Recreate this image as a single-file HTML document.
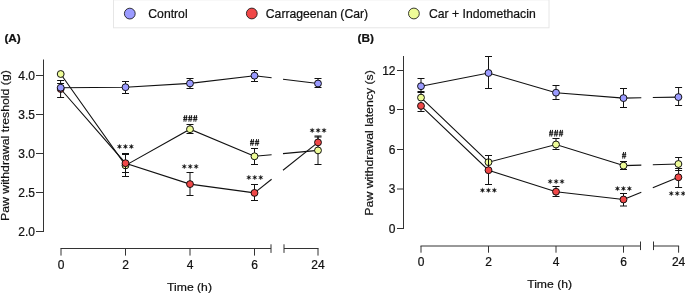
<!DOCTYPE html>
<html><head><meta charset="utf-8"><style>
html,body{margin:0;padding:0;background:#fff;width:685px;height:294px;overflow:hidden}
svg{display:block;will-change:transform;font-family:"Liberation Sans",sans-serif}
text{fill:#111;stroke:#111;stroke-width:0.22px}
</style></head><body>
<svg width="685" height="294" viewBox="0 0 685 294">
<rect x="113.5" y="-0.2" width="435.5" height="28" fill="#fff" stroke="#e6e6e6" stroke-width="1"/>
<circle cx="129.8" cy="13.6" r="5.4" fill="#9b9bff" stroke="#0a0a0a" stroke-width="0.8"/>
<text transform="translate(148.3,17.7) scale(1,1.0)" text-anchor="start" font-size="12.2" font-weight="normal" >Control</text>
<circle cx="251.8" cy="13.5" r="5.4" fill="#f04848" stroke="#0a0a0a" stroke-width="0.8"/>
<text transform="translate(265.8,17.7) scale(1,1.0)" text-anchor="start" font-size="12.2" font-weight="normal" >Carrageenan (Car)</text>
<circle cx="413.9" cy="13.5" r="5.4" fill="#eefc98" stroke="#0a0a0a" stroke-width="0.8"/>
<text transform="translate(429,17.7) scale(1,1.0)" text-anchor="start" font-size="12.2" font-weight="normal" >Car + Indomethacin</text>
<text transform="translate(4.4,41.9) scale(1,1.0)" text-anchor="start" font-size="11.8" font-weight="bold" >(A)</text>
<line x1="43.5" y1="59.5" x2="43.5" y2="232" stroke="#333333" stroke-width="1.0"/>
<line x1="36" y1="75.5" x2="43.5" y2="75.5" stroke="#333333" stroke-width="1.0"/>
<text transform="translate(35,79.6) scale(1,1.0)" text-anchor="end" font-size="12" font-weight="normal" >4.0</text>
<line x1="36" y1="114.5" x2="43.5" y2="114.5" stroke="#333333" stroke-width="1.0"/>
<text transform="translate(35,118.6) scale(1,1.0)" text-anchor="end" font-size="12" font-weight="normal" >3.5</text>
<line x1="36" y1="153.5" x2="43.5" y2="153.5" stroke="#333333" stroke-width="1.0"/>
<text transform="translate(35,157.6) scale(1,1.0)" text-anchor="end" font-size="12" font-weight="normal" >3.0</text>
<line x1="36" y1="192.5" x2="43.5" y2="192.5" stroke="#333333" stroke-width="1.0"/>
<text transform="translate(35,196.6) scale(1,1.0)" text-anchor="end" font-size="12" font-weight="normal" >2.5</text>
<line x1="36" y1="231.5" x2="43.5" y2="231.5" stroke="#333333" stroke-width="1.0"/>
<text transform="translate(35,235.6) scale(1,1.0)" text-anchor="end" font-size="12" font-weight="normal" >2.0</text>
<line x1="60.5" y1="248.5" x2="271" y2="248.5" stroke="#333333" stroke-width="1.0"/>
<line x1="284" y1="248.5" x2="318.5" y2="248.5" stroke="#333333" stroke-width="1.0"/>
<line x1="271" y1="244.3" x2="271" y2="252.9" stroke="#333333" stroke-width="1.0"/>
<line x1="284" y1="244.3" x2="284" y2="252.9" stroke="#333333" stroke-width="1.0"/>
<line x1="61" y1="248.5" x2="61" y2="255.6" stroke="#333333" stroke-width="1.0"/>
<text transform="translate(61,268.8) scale(1,1.0)" text-anchor="middle" font-size="12" font-weight="normal" >0</text>
<line x1="125.5" y1="248.5" x2="125.5" y2="255.6" stroke="#333333" stroke-width="1.0"/>
<text transform="translate(125.5,268.8) scale(1,1.0)" text-anchor="middle" font-size="12" font-weight="normal" >2</text>
<line x1="190" y1="248.5" x2="190" y2="255.6" stroke="#333333" stroke-width="1.0"/>
<text transform="translate(190,268.8) scale(1,1.0)" text-anchor="middle" font-size="12" font-weight="normal" >4</text>
<line x1="254.5" y1="248.5" x2="254.5" y2="255.6" stroke="#333333" stroke-width="1.0"/>
<text transform="translate(254.5,268.8) scale(1,1.0)" text-anchor="middle" font-size="12" font-weight="normal" >6</text>
<line x1="318" y1="248.5" x2="318" y2="255.6" stroke="#333333" stroke-width="1.0"/>
<text transform="translate(318,268.8) scale(1,1.0)" text-anchor="middle" font-size="12" font-weight="normal" >24</text>
<text transform="translate(189.5,291.2) scale(1,0.95)" text-anchor="middle" font-size="12.2" font-weight="normal" >Time (h)</text>
<text transform="translate(9.4,145.6) rotate(-90) scale(1,0.95)" text-anchor="middle" font-size="12.3">Paw withdrawal treshold (g)</text>
<path d="M60.70,74.00 L125.50,165.40 L190.00,129.20 L254.50,156.30" fill="none" stroke="#111" stroke-width="1.1"/>
<path d="M254.50,156.30 L271.60,154.71" fill="none" stroke="#111" stroke-width="1.1"/>
<path d="M283.00,153.65 L318.00,150.40" fill="none" stroke="#111" stroke-width="1.1"/>
<path d="M60.70,89.00 L125.50,163.20 L190.00,184.10 L254.50,192.90" fill="none" stroke="#111" stroke-width="1.1"/>
<path d="M254.50,192.90 L271.60,179.30" fill="none" stroke="#111" stroke-width="1.1"/>
<path d="M283.00,170.23 L318.00,142.40" fill="none" stroke="#111" stroke-width="1.1"/>
<path d="M60.70,87.70 L125.50,87.20 L190.00,83.40 L254.50,75.70" fill="none" stroke="#111" stroke-width="1.1"/>
<path d="M254.50,75.70 L271.60,77.80" fill="none" stroke="#111" stroke-width="1.1"/>
<path d="M283.00,79.20 L318.00,83.50" fill="none" stroke="#111" stroke-width="1.1"/>
<circle cx="60.7" cy="74" r="3.45" fill="#eefc98" stroke="#0a0a0a" stroke-width="0.95"/>
<line x1="125.5" y1="154.5" x2="125.5" y2="176.5" stroke="#111" stroke-width="1.0"/>
<line x1="122.0" y1="154.5" x2="129.0" y2="154.5" stroke="#111" stroke-width="1.0"/>
<line x1="122.0" y1="176.5" x2="129.0" y2="176.5" stroke="#111" stroke-width="1.0"/>
<circle cx="125.5" cy="165.4" r="3.45" fill="#eefc98" stroke="#0a0a0a" stroke-width="0.95"/>
<line x1="190" y1="124.5" x2="190" y2="133.5" stroke="#111" stroke-width="1.0"/>
<line x1="186.5" y1="124.5" x2="193.5" y2="124.5" stroke="#111" stroke-width="1.0"/>
<line x1="186.5" y1="133.5" x2="193.5" y2="133.5" stroke="#111" stroke-width="1.0"/>
<circle cx="190" cy="129.2" r="3.45" fill="#eefc98" stroke="#0a0a0a" stroke-width="0.95"/>
<line x1="254.5" y1="148.5" x2="254.5" y2="164.5" stroke="#111" stroke-width="1.0"/>
<line x1="251.0" y1="148.5" x2="258.0" y2="148.5" stroke="#111" stroke-width="1.0"/>
<line x1="251.0" y1="164.5" x2="258.0" y2="164.5" stroke="#111" stroke-width="1.0"/>
<circle cx="254.5" cy="156.3" r="3.45" fill="#eefc98" stroke="#0a0a0a" stroke-width="0.95"/>
<line x1="60.6" y1="83.5" x2="60.6" y2="89.0" stroke="#111" stroke-width="1.0"/>
<line x1="57.1" y1="83.5" x2="64.1" y2="83.5" stroke="#111" stroke-width="1.0"/>
<circle cx="60.7" cy="89.0" r="3.45" fill="#f04848" stroke="#0a0a0a" stroke-width="0.95"/>
<line x1="125.5" y1="153.5" x2="125.5" y2="172.5" stroke="#111" stroke-width="1.0"/>
<line x1="122.0" y1="153.5" x2="129.0" y2="153.5" stroke="#111" stroke-width="1.0"/>
<line x1="122.0" y1="172.5" x2="129.0" y2="172.5" stroke="#111" stroke-width="1.0"/>
<circle cx="125.5" cy="163.2" r="3.45" fill="#f04848" stroke="#0a0a0a" stroke-width="0.95"/>
<line x1="190" y1="172.5" x2="190" y2="195.5" stroke="#111" stroke-width="1.0"/>
<line x1="186.5" y1="172.5" x2="193.5" y2="172.5" stroke="#111" stroke-width="1.0"/>
<line x1="186.5" y1="195.5" x2="193.5" y2="195.5" stroke="#111" stroke-width="1.0"/>
<circle cx="190" cy="184.1" r="3.45" fill="#f04848" stroke="#0a0a0a" stroke-width="0.95"/>
<line x1="254.5" y1="184.5" x2="254.5" y2="200.5" stroke="#111" stroke-width="1.0"/>
<line x1="251.0" y1="184.5" x2="258.0" y2="184.5" stroke="#111" stroke-width="1.0"/>
<line x1="251.0" y1="200.5" x2="258.0" y2="200.5" stroke="#111" stroke-width="1.0"/>
<circle cx="254.5" cy="192.9" r="3.45" fill="#f04848" stroke="#0a0a0a" stroke-width="0.95"/>
<line x1="60.6" y1="80.5" x2="60.6" y2="97.5" stroke="#111" stroke-width="1.0"/>
<line x1="57.1" y1="80.5" x2="64.1" y2="80.5" stroke="#111" stroke-width="1.0"/>
<line x1="57.1" y1="97.5" x2="64.1" y2="97.5" stroke="#111" stroke-width="1.0"/>
<circle cx="60.7" cy="87.7" r="3.45" fill="#9b9bff" stroke="#0a0a0a" stroke-width="0.95"/>
<line x1="125.5" y1="81.5" x2="125.5" y2="93.5" stroke="#111" stroke-width="1.0"/>
<line x1="122.0" y1="81.5" x2="129.0" y2="81.5" stroke="#111" stroke-width="1.0"/>
<line x1="122.0" y1="93.5" x2="129.0" y2="93.5" stroke="#111" stroke-width="1.0"/>
<circle cx="125.5" cy="87.2" r="3.45" fill="#9b9bff" stroke="#0a0a0a" stroke-width="0.95"/>
<line x1="190" y1="78.5" x2="190" y2="88.5" stroke="#111" stroke-width="1.0"/>
<line x1="186.5" y1="78.5" x2="193.5" y2="78.5" stroke="#111" stroke-width="1.0"/>
<line x1="186.5" y1="88.5" x2="193.5" y2="88.5" stroke="#111" stroke-width="1.0"/>
<circle cx="190" cy="83.4" r="3.45" fill="#9b9bff" stroke="#0a0a0a" stroke-width="0.95"/>
<line x1="254.5" y1="70.5" x2="254.5" y2="81.5" stroke="#111" stroke-width="1.0"/>
<line x1="251.0" y1="70.5" x2="258.0" y2="70.5" stroke="#111" stroke-width="1.0"/>
<line x1="251.0" y1="81.5" x2="258.0" y2="81.5" stroke="#111" stroke-width="1.0"/>
<circle cx="254.5" cy="75.7" r="3.45" fill="#9b9bff" stroke="#0a0a0a" stroke-width="0.95"/>
<line x1="318" y1="137" x2="318" y2="142.4" stroke="#111" stroke-width="1.0"/>
<line x1="314.5" y1="137" x2="321.5" y2="137" stroke="#111" stroke-width="1.0"/>
<line x1="318" y1="136" x2="318" y2="164.5" stroke="#111" stroke-width="1.0"/>
<line x1="314.5" y1="136" x2="321.5" y2="136" stroke="#111" stroke-width="1.0"/>
<line x1="314.5" y1="164.5" x2="321.5" y2="164.5" stroke="#111" stroke-width="1.0"/>
<line x1="318" y1="78.5" x2="318" y2="87.5" stroke="#111" stroke-width="1.0"/>
<line x1="314.5" y1="78.5" x2="321.5" y2="78.5" stroke="#111" stroke-width="1.0"/>
<line x1="314.5" y1="87.5" x2="321.5" y2="87.5" stroke="#111" stroke-width="1.0"/>
<circle cx="318" cy="142.4" r="3.45" fill="#f04848" stroke="#0a0a0a" stroke-width="0.95"/>
<circle cx="318" cy="150.4" r="3.45" fill="#eefc98" stroke="#0a0a0a" stroke-width="0.95"/>
<circle cx="318" cy="83.5" r="3.45" fill="#9b9bff" stroke="#0a0a0a" stroke-width="0.95"/>
<path d="M119.45,144.10L119.95,145.73L121.62,145.35L120.45,146.60L121.62,147.85L119.95,147.47L119.45,149.10L118.95,147.47L117.28,147.85L118.45,146.60L117.28,145.35L118.95,145.73ZM125.40,144.10L125.90,145.73L127.57,145.35L126.40,146.60L127.57,147.85L125.90,147.47L125.40,149.10L124.90,147.47L123.23,147.85L124.40,146.60L123.23,145.35L124.90,145.73ZM131.35,144.10L131.85,145.73L133.52,145.35L132.35,146.60L133.52,147.85L131.85,147.47L131.35,149.10L130.85,147.47L129.18,147.85L130.35,146.60L129.18,145.35L130.85,145.73Z" fill="#111" stroke="#111" stroke-width="0.25"/>
<path d="M184.25,164.00L184.75,165.63L186.42,165.25L185.25,166.50L186.42,167.75L184.75,167.37L184.25,169.00L183.75,167.37L182.08,167.75L183.25,166.50L182.08,165.25L183.75,165.63ZM190.20,164.00L190.70,165.63L192.37,165.25L191.20,166.50L192.37,167.75L190.70,167.37L190.20,169.00L189.70,167.37L188.03,167.75L189.20,166.50L188.03,165.25L189.70,165.63ZM196.15,164.00L196.65,165.63L198.32,165.25L197.15,166.50L198.32,167.75L196.65,167.37L196.15,169.00L195.65,167.37L193.98,167.75L195.15,166.50L193.98,165.25L195.65,165.63Z" fill="#111" stroke="#111" stroke-width="0.25"/>
<path d="M248.85,175.00L249.35,176.63L251.02,176.25L249.85,177.50L251.02,178.75L249.35,178.37L248.85,180.00L248.35,178.37L246.68,178.75L247.85,177.50L246.68,176.25L248.35,176.63ZM254.80,175.00L255.30,176.63L256.97,176.25L255.80,177.50L256.97,178.75L255.30,178.37L254.80,180.00L254.30,178.37L252.63,178.75L253.80,177.50L252.63,176.25L254.30,176.63ZM260.75,175.00L261.25,176.63L262.92,176.25L261.75,177.50L262.92,178.75L261.25,178.37L260.75,180.00L260.25,178.37L258.58,178.75L259.75,177.50L258.58,176.25L260.25,176.63Z" fill="#111" stroke="#111" stroke-width="0.25"/>
<path d="M312.15,127.90L312.65,129.53L314.32,129.15L313.15,130.40L314.32,131.65L312.65,131.27L312.15,132.90L311.65,131.27L309.98,131.65L311.15,130.40L309.98,129.15L311.65,129.53ZM318.10,127.90L318.60,129.53L320.27,129.15L319.10,130.40L320.27,131.65L318.60,131.27L318.10,132.90L317.60,131.27L315.93,131.65L317.10,130.40L315.93,129.15L317.60,129.53ZM324.05,127.90L324.55,129.53L326.22,129.15L325.05,130.40L326.22,131.65L324.55,131.27L324.05,132.90L323.55,131.27L321.88,131.65L323.05,130.40L321.88,129.15L323.55,129.53Z" fill="#111" stroke="#111" stroke-width="0.25"/>
<path d="M184.85,115.10L183.95,121.70M186.75,115.10L185.85,121.70M183.20,117.40H187.50M183.20,119.40H187.50M189.80,115.10L188.90,121.70M191.70,115.10L190.80,121.70M188.15,117.40H192.45M188.15,119.40H192.45M194.75,115.10L193.85,121.70M196.65,115.10L195.75,121.70M193.10,117.40H197.40M193.10,119.40H197.40" stroke="#111" stroke-width="0.95" fill="none"/>
<path d="M251.62,139.10L250.73,145.70M253.52,139.10L252.62,145.70M249.97,141.40H254.28M249.97,143.40H254.28M256.57,139.10L255.68,145.70M258.47,139.10L257.57,145.70M254.92,141.40H259.22M254.92,143.40H259.22" stroke="#111" stroke-width="0.95" fill="none"/>
<text transform="translate(357.5,41.9) scale(1,1.0)" text-anchor="start" font-size="11.8" font-weight="bold" >(B)</text>
<line x1="403.5" y1="56" x2="403.5" y2="229" stroke="#333333" stroke-width="1.0"/>
<line x1="397" y1="70.5" x2="403.5" y2="70.5" stroke="#333333" stroke-width="1.0"/>
<text transform="translate(395.5,74.6) scale(1,1.0)" text-anchor="end" font-size="12" font-weight="normal" >12</text>
<line x1="397" y1="109.5" x2="403.5" y2="109.5" stroke="#333333" stroke-width="1.0"/>
<text transform="translate(395.5,113.6) scale(1,1.0)" text-anchor="end" font-size="12" font-weight="normal" >9</text>
<line x1="397" y1="149.5" x2="403.5" y2="149.5" stroke="#333333" stroke-width="1.0"/>
<text transform="translate(395.5,153.6) scale(1,1.0)" text-anchor="end" font-size="12" font-weight="normal" >6</text>
<line x1="397" y1="189" x2="403.5" y2="189" stroke="#333333" stroke-width="1.0"/>
<text transform="translate(395.5,193.1) scale(1,1.0)" text-anchor="end" font-size="12" font-weight="normal" >3</text>
<line x1="397" y1="228.5" x2="403.5" y2="228.5" stroke="#333333" stroke-width="1.0"/>
<text transform="translate(395.5,232.6) scale(1,1.0)" text-anchor="end" font-size="12" font-weight="normal" >0</text>
<line x1="420.5" y1="246" x2="640.5" y2="246" stroke="#333333" stroke-width="1.0"/>
<line x1="653.5" y1="246" x2="679.1" y2="246" stroke="#333333" stroke-width="1.0"/>
<line x1="640.5" y1="241.5" x2="640.5" y2="250.1" stroke="#333333" stroke-width="1.0"/>
<line x1="653.5" y1="241.5" x2="653.5" y2="250.1" stroke="#333333" stroke-width="1.0"/>
<line x1="421" y1="246" x2="421" y2="252.7" stroke="#333333" stroke-width="1.0"/>
<text transform="translate(421,266.3) scale(1,1.0)" text-anchor="middle" font-size="12" font-weight="normal" >0</text>
<line x1="488.5" y1="246" x2="488.5" y2="252.7" stroke="#333333" stroke-width="1.0"/>
<text transform="translate(488.5,266.3) scale(1,1.0)" text-anchor="middle" font-size="12" font-weight="normal" >2</text>
<line x1="556" y1="246" x2="556" y2="252.7" stroke="#333333" stroke-width="1.0"/>
<text transform="translate(556,266.3) scale(1,1.0)" text-anchor="middle" font-size="12" font-weight="normal" >4</text>
<line x1="623.5" y1="246" x2="623.5" y2="252.7" stroke="#333333" stroke-width="1.0"/>
<text transform="translate(623.5,266.3) scale(1,1.0)" text-anchor="middle" font-size="12" font-weight="normal" >6</text>
<line x1="678.6" y1="246" x2="678.6" y2="252.7" stroke="#333333" stroke-width="1.0"/>
<text transform="translate(678.6,266.3) scale(1,1.0)" text-anchor="middle" font-size="12" font-weight="normal" >24</text>
<text transform="translate(549.6,287.9) scale(1,0.95)" text-anchor="middle" font-size="12.2" font-weight="normal" >Time (h)</text>
<text transform="translate(372.8,142.9) rotate(-90) scale(1,0.95)" text-anchor="middle" font-size="12.3">Paw withdrawal latency (s)</text>
<path d="M421.00,97.60 L488.50,162.20 L556.00,144.50 L623.50,165.60" fill="none" stroke="#111" stroke-width="1.1"/>
<path d="M623.50,165.60 L641.30,165.08" fill="none" stroke="#111" stroke-width="1.1"/>
<path d="M652.80,164.75 L678.40,164.00" fill="none" stroke="#111" stroke-width="1.1"/>
<path d="M421.00,105.90 L488.50,170.20 L556.00,191.70 L623.50,199.50" fill="none" stroke="#111" stroke-width="1.1"/>
<path d="M623.50,199.50 L641.30,192.30" fill="none" stroke="#111" stroke-width="1.1"/>
<path d="M652.80,187.65 L678.40,177.30" fill="none" stroke="#111" stroke-width="1.1"/>
<path d="M421.00,86.20 L488.50,73.00 L556.00,92.70 L623.50,98.10" fill="none" stroke="#111" stroke-width="1.1"/>
<path d="M623.50,98.10 L641.30,97.78" fill="none" stroke="#111" stroke-width="1.1"/>
<path d="M652.80,97.57 L678.40,97.10" fill="none" stroke="#111" stroke-width="1.1"/>
<line x1="421" y1="92.5" x2="421" y2="97.6" stroke="#111" stroke-width="1.0"/>
<line x1="417.5" y1="92.5" x2="424.5" y2="92.5" stroke="#111" stroke-width="1.0"/>
<circle cx="421" cy="97.6" r="3.45" fill="#eefc98" stroke="#0a0a0a" stroke-width="0.95"/>
<circle cx="488.5" cy="162.2" r="3.45" fill="#eefc98" stroke="#0a0a0a" stroke-width="0.95"/>
<line x1="556" y1="138.5" x2="556" y2="149.5" stroke="#111" stroke-width="1.0"/>
<line x1="552.5" y1="138.5" x2="559.5" y2="138.5" stroke="#111" stroke-width="1.0"/>
<line x1="552.5" y1="149.5" x2="559.5" y2="149.5" stroke="#111" stroke-width="1.0"/>
<circle cx="556" cy="144.5" r="3.45" fill="#eefc98" stroke="#0a0a0a" stroke-width="0.95"/>
<line x1="623.5" y1="161.5" x2="623.5" y2="169.5" stroke="#111" stroke-width="1.0"/>
<line x1="620.0" y1="161.5" x2="627.0" y2="161.5" stroke="#111" stroke-width="1.0"/>
<line x1="620.0" y1="169.5" x2="627.0" y2="169.5" stroke="#111" stroke-width="1.0"/>
<circle cx="623.5" cy="165.6" r="3.45" fill="#eefc98" stroke="#0a0a0a" stroke-width="0.95"/>
<line x1="421" y1="105.9" x2="421" y2="111.5" stroke="#111" stroke-width="1.0"/>
<line x1="417.5" y1="111.5" x2="424.5" y2="111.5" stroke="#111" stroke-width="1.0"/>
<circle cx="421" cy="105.9" r="3.45" fill="#f04848" stroke="#0a0a0a" stroke-width="0.95"/>
<line x1="488.5" y1="155.5" x2="488.5" y2="184.5" stroke="#111" stroke-width="1.0"/>
<line x1="485.0" y1="155.5" x2="492.0" y2="155.5" stroke="#111" stroke-width="1.0"/>
<line x1="485.0" y1="184.5" x2="492.0" y2="184.5" stroke="#111" stroke-width="1.0"/>
<circle cx="488.5" cy="170.2" r="3.45" fill="#f04848" stroke="#0a0a0a" stroke-width="0.95"/>
<line x1="556" y1="186.5" x2="556" y2="196.5" stroke="#111" stroke-width="1.0"/>
<line x1="552.5" y1="186.5" x2="559.5" y2="186.5" stroke="#111" stroke-width="1.0"/>
<line x1="552.5" y1="196.5" x2="559.5" y2="196.5" stroke="#111" stroke-width="1.0"/>
<circle cx="556" cy="191.7" r="3.45" fill="#f04848" stroke="#0a0a0a" stroke-width="0.95"/>
<line x1="623.5" y1="193.5" x2="623.5" y2="206" stroke="#111" stroke-width="1.0"/>
<line x1="620.0" y1="193.5" x2="627.0" y2="193.5" stroke="#111" stroke-width="1.0"/>
<line x1="620.0" y1="206" x2="627.0" y2="206" stroke="#111" stroke-width="1.0"/>
<circle cx="623.5" cy="199.5" r="3.45" fill="#f04848" stroke="#0a0a0a" stroke-width="0.95"/>
<line x1="421" y1="78.5" x2="421" y2="91.5" stroke="#111" stroke-width="1.0"/>
<line x1="417.5" y1="78.5" x2="424.5" y2="78.5" stroke="#111" stroke-width="1.0"/>
<line x1="417.5" y1="91.5" x2="424.5" y2="91.5" stroke="#111" stroke-width="1.0"/>
<circle cx="421" cy="86.2" r="3.45" fill="#9b9bff" stroke="#0a0a0a" stroke-width="0.95"/>
<line x1="488.5" y1="56.5" x2="488.5" y2="88.5" stroke="#111" stroke-width="1.0"/>
<line x1="485.0" y1="56.5" x2="492.0" y2="56.5" stroke="#111" stroke-width="1.0"/>
<line x1="485.0" y1="88.5" x2="492.0" y2="88.5" stroke="#111" stroke-width="1.0"/>
<circle cx="488.5" cy="73" r="3.45" fill="#9b9bff" stroke="#0a0a0a" stroke-width="0.95"/>
<line x1="556" y1="85.5" x2="556" y2="99.5" stroke="#111" stroke-width="1.0"/>
<line x1="552.5" y1="85.5" x2="559.5" y2="85.5" stroke="#111" stroke-width="1.0"/>
<line x1="552.5" y1="99.5" x2="559.5" y2="99.5" stroke="#111" stroke-width="1.0"/>
<circle cx="556" cy="92.7" r="3.45" fill="#9b9bff" stroke="#0a0a0a" stroke-width="0.95"/>
<line x1="623.5" y1="88.5" x2="623.5" y2="107.5" stroke="#111" stroke-width="1.0"/>
<line x1="620.0" y1="88.5" x2="627.0" y2="88.5" stroke="#111" stroke-width="1.0"/>
<line x1="620.0" y1="107.5" x2="627.0" y2="107.5" stroke="#111" stroke-width="1.0"/>
<circle cx="623.5" cy="98.1" r="3.45" fill="#9b9bff" stroke="#0a0a0a" stroke-width="0.95"/>
<line x1="678.6" y1="168.5" x2="678.6" y2="187.5" stroke="#111" stroke-width="1.0"/>
<line x1="675.1" y1="168.5" x2="682.1" y2="168.5" stroke="#111" stroke-width="1.0"/>
<line x1="675.1" y1="187.5" x2="682.1" y2="187.5" stroke="#111" stroke-width="1.0"/>
<line x1="678.6" y1="157.5" x2="678.6" y2="170.5" stroke="#111" stroke-width="1.0"/>
<line x1="675.1" y1="157.5" x2="682.1" y2="157.5" stroke="#111" stroke-width="1.0"/>
<line x1="675.1" y1="170.5" x2="682.1" y2="170.5" stroke="#111" stroke-width="1.0"/>
<line x1="678.6" y1="87.5" x2="678.6" y2="105.5" stroke="#111" stroke-width="1.0"/>
<line x1="675.1" y1="87.5" x2="682.1" y2="87.5" stroke="#111" stroke-width="1.0"/>
<line x1="675.1" y1="105.5" x2="682.1" y2="105.5" stroke="#111" stroke-width="1.0"/>
<circle cx="678.4" cy="177.3" r="3.45" fill="#f04848" stroke="#0a0a0a" stroke-width="0.95"/>
<circle cx="678.4" cy="164" r="3.45" fill="#eefc98" stroke="#0a0a0a" stroke-width="0.95"/>
<circle cx="678.4" cy="97.1" r="3.45" fill="#9b9bff" stroke="#0a0a0a" stroke-width="0.95"/>
<path d="M482.45,187.80L482.95,189.43L484.62,189.05L483.45,190.30L484.62,191.55L482.95,191.17L482.45,192.80L481.95,191.17L480.28,191.55L481.45,190.30L480.28,189.05L481.95,189.43ZM488.40,187.80L488.90,189.43L490.57,189.05L489.40,190.30L490.57,191.55L488.90,191.17L488.40,192.80L487.90,191.17L486.23,191.55L487.40,190.30L486.23,189.05L487.90,189.43ZM494.35,187.80L494.85,189.43L496.52,189.05L495.35,190.30L496.52,191.55L494.85,191.17L494.35,192.80L493.85,191.17L492.18,191.55L493.35,190.30L492.18,189.05L493.85,189.43Z" fill="#111" stroke="#111" stroke-width="0.25"/>
<path d="M550.15,179.00L550.65,180.63L552.32,180.25L551.15,181.50L552.32,182.75L550.65,182.37L550.15,184.00L549.65,182.37L547.98,182.75L549.15,181.50L547.98,180.25L549.65,180.63ZM556.10,179.00L556.60,180.63L558.27,180.25L557.10,181.50L558.27,182.75L556.60,182.37L556.10,184.00L555.60,182.37L553.93,182.75L555.10,181.50L553.93,180.25L555.60,180.63ZM562.05,179.00L562.55,180.63L564.22,180.25L563.05,181.50L564.22,182.75L562.55,182.37L562.05,184.00L561.55,182.37L559.88,182.75L561.05,181.50L559.88,180.25L561.55,180.63Z" fill="#111" stroke="#111" stroke-width="0.25"/>
<path d="M617.45,186.10L617.95,187.73L619.62,187.35L618.45,188.60L619.62,189.85L617.95,189.47L617.45,191.10L616.95,189.47L615.28,189.85L616.45,188.60L615.28,187.35L616.95,187.73ZM623.40,186.10L623.90,187.73L625.57,187.35L624.40,188.60L625.57,189.85L623.90,189.47L623.40,191.10L622.90,189.47L621.23,189.85L622.40,188.60L621.23,187.35L622.90,187.73ZM629.35,186.10L629.85,187.73L631.52,187.35L630.35,188.60L631.52,189.85L629.85,189.47L629.35,191.10L628.85,189.47L627.18,189.85L628.35,188.60L627.18,187.35L628.85,187.73Z" fill="#111" stroke="#111" stroke-width="0.25"/>
<path d="M671.25,191.00L671.75,192.63L673.42,192.25L672.25,193.50L673.42,194.75L671.75,194.37L671.25,196.00L670.75,194.37L669.08,194.75L670.25,193.50L669.08,192.25L670.75,192.63ZM677.20,191.00L677.70,192.63L679.37,192.25L678.20,193.50L679.37,194.75L677.70,194.37L677.20,196.00L676.70,194.37L675.03,194.75L676.20,193.50L675.03,192.25L676.70,192.63ZM683.15,191.00L683.65,192.63L685.32,192.25L684.15,193.50L685.32,194.75L683.65,194.37L683.15,196.00L682.65,194.37L680.98,194.75L682.15,193.50L680.98,192.25L682.65,192.63Z" fill="#111" stroke="#111" stroke-width="0.25"/>
<path d="M550.65,129.90L549.75,136.50M552.55,129.90L551.65,136.50M549.00,132.20H553.30M549.00,134.20H553.30M555.60,129.90L554.70,136.50M557.50,129.90L556.60,136.50M553.95,132.20H558.25M553.95,134.20H558.25M560.55,129.90L559.65,136.50M562.45,129.90L561.55,136.50M558.90,132.20H563.20M558.90,134.20H563.20" stroke="#111" stroke-width="0.95" fill="none"/>
<path d="M623.60,152.00L622.70,158.60M625.50,152.00L624.60,158.60M621.95,154.30H626.25M621.95,156.30H626.25" stroke="#111" stroke-width="0.95" fill="none"/>
</svg>
</body></html>
